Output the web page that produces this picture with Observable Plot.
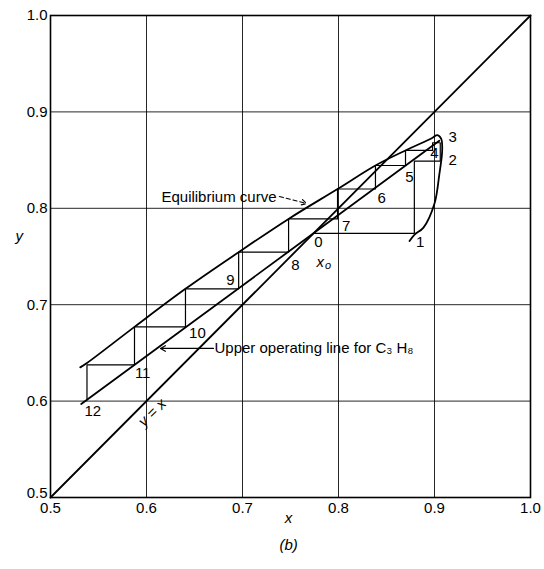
<!DOCTYPE html>
<html>
<head>
<meta charset="utf-8">
<script src="https://cdn.jsdelivr.net/npm/d3@7"></script>
<script src="https://cdn.jsdelivr.net/npm/@observablehq/plot@0.6"></script>
<style>
  html, body { margin: 0; padding: 0; background: #fff; }
</style>
</head>
<body>
<div id="chart"></div>
<script>
// Axis ticks
const xTicks = [0.5, 0.6, 0.7, 0.8, 0.9, 1.0];
const yTicks = [0.6, 0.7, 0.8, 0.9, 1.0];
const yTickBottom = [0.5];
const gridTicks = [0.6, 0.7, 0.8, 0.9];

// y = x diagonal
const diagX = [0.5, 1.0];
const diagY = [0.5, 1.0];

// Equilibrium curve
const eqX = [0.531, 0.538, 0.5875, 0.6406, 0.696, 0.748, 0.799, 0.8385, 0.8698, 0.8976, 0.903, 0.907, 0.908, 0.905, 0.900, 0.8885, 0.879, 0.874];
const eqY = [0.635, 0.6395, 0.677, 0.7165, 0.7545, 0.789, 0.820, 0.8444, 0.860, 0.873, 0.876, 0.872, 0.860, 0.835, 0.805, 0.780, 0.7725, 0.766];

// Upper operating line for C3H8
const opX = [0.532, 0.905];
const opY = [0.597, 0.870];

// Stage staircase
const stepX = [0.775, 0.879, 0.879, 0.906, 0.906, 0.898, 0.898, 0.8698, 0.8698, 0.8385, 0.8385, 0.799, 0.799, 0.748, 0.748, 0.696, 0.696, 0.6406, 0.6406, 0.5875, 0.5875, 0.538, 0.538];
const stepY = [0.774, 0.774, 0.849, 0.849, 0.868, 0.868, 0.860, 0.860, 0.8444, 0.8444, 0.820, 0.820, 0.789, 0.789, 0.7545, 0.7545, 0.7165, 0.7165, 0.677, 0.677, 0.6376, 0.6376, 0.6013];

// Stage labels
const stageText = ["0", "1", "2", "3", "4", "5", "6", "7", "8", "9", "10", "11", "12"];
const stageX = [0.779, 0.885, 0.919, 0.919, 0.900, 0.874, 0.845, 0.808, 0.755, 0.6875, 0.653, 0.596, 0.544];
const stageY = [0.7645, 0.7645, 0.8496, 0.8734, 0.857, 0.832, 0.810, 0.781, 0.741, 0.725, 0.670, 0.6286, 0.590];

const stages = stageText.map((t, i) => ({t, x: stageX[i], y: stageY[i]}));
const diag = diagX.map((x, i) => ({x, y: diagY[i]}));
const eq = eqX.map((x, i) => ({x, y: eqY[i]}));
const op = opX.map((x, i) => ({x, y: opY[i]}));
const steps = stepX.map((x, i) => ({x, y: stepY[i]}));

const font = "'Liberation Sans', Arial, Helvetica, sans-serif";

const chart = Plot.plot({
  width: 544,
  height: 569,
  marginLeft: 50,
  marginRight: 14,
  marginTop: 15,
  marginBottom: 72,
  style: {fontFamily: font, fontSize: "15px", color: "black", background: "white"},
  x: {domain: [0.5, 1.0]},
  y: {domain: [0.5, 1.0]},
  marks: [
    Plot.gridX(gridTicks, {stroke: "black", strokeOpacity: 0.85, strokeWidth: 1}),
    Plot.gridY(gridTicks, {stroke: "black", strokeOpacity: 0.85, strokeWidth: 1}),
    Plot.frame({stroke: "black", strokeWidth: 1.6}),
    Plot.axisX(xTicks, {tickSize: 0, tickPadding: 5, tickFormat: d => d.toFixed(1), label: null, fontSize: 15}),
    Plot.axisY(yTicks, {tickSize: 0, tickPadding: 3, tickFormat: d => d.toFixed(1), label: null, fontSize: 15}),
    Plot.axisY(yTickBottom, {tickSize: 0, tickPadding: 3, dy: -4, tickFormat: d => d.toFixed(1), label: null, fontSize: 15}),
    Plot.line(diag, {x: "x", y: "y", stroke: "black", strokeWidth: 1.8}),
    Plot.line(op, {x: "x", y: "y", stroke: "black", strokeWidth: 1.8}),
    Plot.line(eq, {x: "x", y: "y", curve: "catmull-rom", stroke: "black", strokeWidth: 1.8}),
    Plot.line(steps, {x: "x", y: "y", stroke: "black", strokeWidth: 1.2}),
    Plot.text(stages, {x: "x", y: "y", text: "t", fontSize: 15, fill: "black"}),
    // x_o label
    Plot.text(["x"], {x: [0.781], y: [0.7445], fontStyle: "italic", fontSize: 15, fill: "black"}),
    Plot.text(["o"], {x: [0.789], y: [0.7405], fontStyle: "italic", fontSize: 11, fill: "black"}),
    // Equilibrium curve annotation
    Plot.text(["Equilibrium curve"], {x: [0.7354], y: [0.8112], textAnchor: "end", fontSize: 15, fill: "black"}),
    Plot.arrow([{x1: 0.7385, y1: 0.8122, x2: 0.7667, y2: 0.805}], {x1: "x1", y1: "y1", x2: "x2", y2: "y2", stroke: "black", strokeWidth: 1.2, strokeDasharray: "4,3", headLength: 7}),
    // Operating line annotation
    Plot.arrow([{x1: 0.6698, y1: 0.6546, x2: 0.6146, y2: 0.6546}], {x1: "x1", y1: "y1", x2: "x2", y2: "y2", stroke: "black", strokeWidth: 1.2, headLength: 7}),
    Plot.text(["Upper operating line for C₃ H₈"], {x: [0.6708], y: [0.6546], textAnchor: "start", fontSize: 15, fill: "black"}),
    // y = x label
    Plot.text(["y = x"], {x: [0.606], y: [0.588], rotate: -45, fontStyle: "italic", fontSize: 15, fill: "black"}),
    // axis labels
    Plot.text(["x"], {x: [0.748], frameAnchor: "bottom", dy: 25, fontStyle: "italic", fontSize: 15, fill: "black"}),
    Plot.text(["y"], {y: [0.7707], frameAnchor: "left", dx: -35, fontStyle: "italic", fontSize: 15, fill: "black"}),
    Plot.text(["(b)"], {x: [0.748], frameAnchor: "bottom", dy: 52, fontStyle: "italic", fontSize: 15, fill: "black"})
  ]
});
document.getElementById("chart").appendChild(chart);
</script>
</body>
</html>
